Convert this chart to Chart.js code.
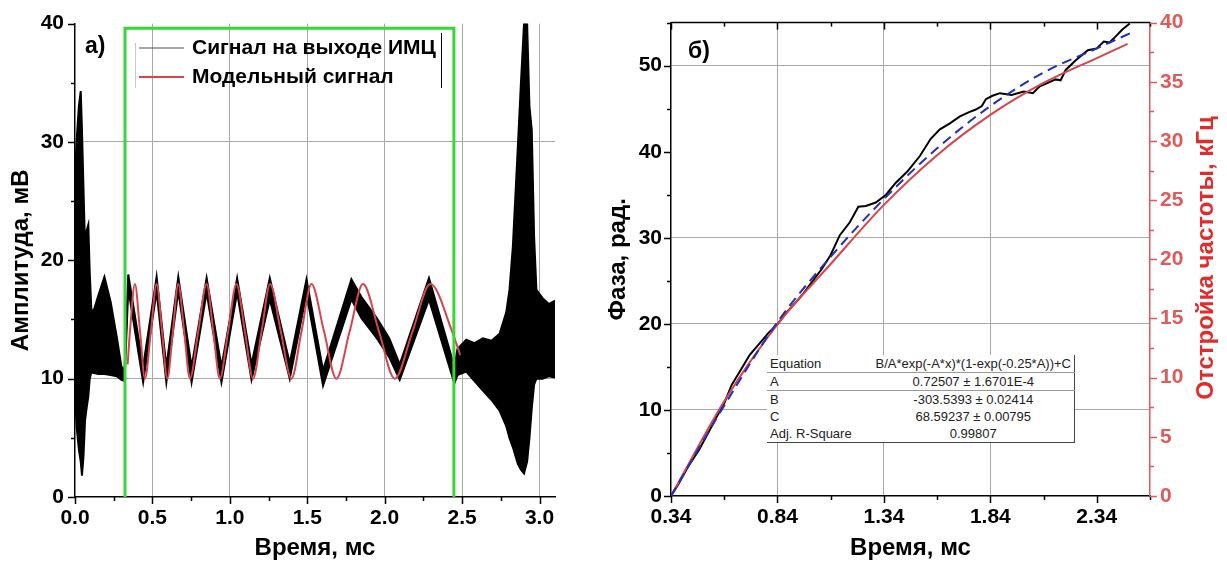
<!DOCTYPE html>
<html>
<head>
<meta charset="utf-8">
<script src="https://cdn.jsdelivr.net/npm/chart.js@4.4.0/dist/chart.umd.min.js"></script>
<style>
  body { margin: 0; background: #fff; width: 1227px; height: 564px; overflow: hidden; position: relative; }
  #wrapA { position: absolute; left: 0; top: 0; width: 600px; height: 564px; }
  #wrapB { position: absolute; left: 600px; top: 0; width: 627px; height: 564px; }
  #fitTable {
    position: absolute; left: 767px; top: 355px; width: 308px;
    border-collapse: collapse; background: #fff;
    font-family: "Liberation Sans", Arial, sans-serif; font-size: 13px; color: #222;
    border-right: 1px solid #444; border-bottom: 1px solid #444;
  }
  #fitTable td { padding: 0 3px; height: 17px; line-height: 17px; white-space: nowrap; }
  #fitTable td:first-child { width: 105px; }
  #fitTable td:last-child { text-align: center; }
  #fitTable tr.sep td { border-bottom: 1px solid #999; }
</style>
</head>
<body>
<div id="wrapA"><canvas id="chartA" width="600" height="564"></canvas></div>
<div id="wrapB"><canvas id="chartB" width="627" height="564"></canvas></div>
<table id="fitTable">
  <tr class="sep"><td>Equation</td><td>B/A*exp(-A*x)*(1-exp(-0.25*A))+C</td></tr>
  <tr class="sep"><td>A</td><td>0.72507 ± 1.6701E-4</td></tr>
  <tr><td>B</td><td>-303.5393 ± 0.02414</td></tr>
  <tr><td>C</td><td>68.59237 ± 0.00795</td></tr>
  <tr><td>Adj. R-Square</td><td>0.99807</td></tr>
</table>
<script>
// ---- panel a) : signal ----
// black signal drawn as a band between upper and lower envelope
const blackT = [0.000, 0.010, 0.025, 0.037, 0.045, 0.055, 0.065, 0.075, 0.086, 0.095, 0.105, 0.115, 0.15, 0.19, 0.23, 0.27, 0.30, 0.32,
  0.344, 0.44, 0.527, 0.59, 0.667, 0.753, 0.85, 0.946, 1.047, 1.14, 1.258, 1.387, 1.495, 1.602, 1.785, 1.85, 1.95, 2.03, 2.097, 2.286, 2.45,
  2.47, 2.527, 2.58, 2.634, 2.69, 2.742, 2.785, 2.806, 2.828, 2.86, 2.88, 2.90, 2.92, 2.935, 2.95, 2.965, 2.98, 3.02, 3.06, 3.10];
const blackHi = [27, 30, 33, 34.3, 31, 26, 21, 22.5, 23, 19, 16, 15.5, 17, 18.6, 16.5, 13.5, 11, 10.8,
  18.8, 11.0, 18.6, 11.0, 18.6, 11.0, 18.5, 11.0, 18.5, 11.2, 18.5, 11.3, 18.4, 10.7, 18.4, 16.9, 15.1, 13.4, 11.2, 18.5, 11.0,
  12.5, 13.3, 13.0, 13.4, 13.2, 13.8, 15.6, 17.5, 21.2, 29.6, 35, 40, 40, 33, 31, 22, 17.5, 16.8, 16.3, 16.6];
const blackLo = [9, 6, 4, 3, 1.8, 3.5, 6.5, 7.5, 8.5, 10, 10.5, 10.5, 10.4, 10.4, 10.3, 10.2, 9.9, 9.8,
  17.6, 9.7, 17.4, 9.7, 17.4, 9.7, 17.3, 9.7, 17.3, 9.9, 16.7, 10.0, 17.2, 9.4, 16.7, 15.1, 13.4, 11.8, 9.9, 16.7, 9.6,
  10.3, 10.6, 9.8, 9.0, 8.2, 7.3, 6.0, 5.0, 4.2, 2.8, 2.3, 2.0, 3.0, 5.0, 7.5, 9.5, 10.0, 10.0, 10.2, 10.1];
// model signal: extrema and crossings
const modelT = [0.34, 0.355, 0.387, 0.42, 0.452, 0.49, 0.527, 0.562, 0.596, 0.632, 0.667, 0.705, 0.742, 0.796, 0.85, 0.893,
  0.935, 0.989, 1.043, 1.097, 1.15, 1.205, 1.26, 1.329, 1.398, 1.463, 1.527, 1.608, 1.688, 1.774, 1.86, 1.963, 2.065, 2.18,
  2.295, 2.435, 2.488];
const modelV = [11.2, 14, 18, 14, 10, 14, 18, 14, 10, 14, 18, 14, 10, 14, 18, 14,
  10, 14, 18, 14, 10, 14, 18, 14, 10, 14, 18, 14, 10, 14, 18, 14, 10, 14,
  18, 14, 12.0];
// green selection frame
const boxT = [0.323, 0.323, 2.447, 2.447];
const boxV = [0, 39.6, 39.6, 0];

const ampXMajor = [0, 0.5, 1, 1.5, 2, 2.5, 3];
const ampXMinor = [0.25, 0.75, 1.25, 1.75, 2.25, 2.75];
const ampYMajor = [0, 10, 20, 30, 40];
const ampYMinor = [5, 15, 25, 35];
const ampGridX = [0.5, 1, 1.5, 2, 2.5, 3];
const ampGridY = [10, 30];

// ---- panel b) : phase ----
const phaseT = [0.34, 0.373, 0.42, 0.47, 0.514, 0.55, 0.589, 0.625, 0.664, 0.71, 0.758, 0.80, 0.838, 0.889, 0.93, 0.964,
  1.0, 1.049, 1.09, 1.133, 1.18, 1.22, 1.255, 1.302, 1.35, 1.396, 1.45, 1.509, 1.56, 1.603, 1.65, 1.697, 1.74, 1.772,
  1.80, 1.819, 1.85, 1.885, 1.94, 1.997, 2.04, 2.072, 2.11, 2.147, 2.17, 2.194, 2.24, 2.298, 2.34, 2.373, 2.40, 2.429, 2.46, 2.495];
const phaseV = [0, 1.3, 3.4, 5.3, 7.3, 9.0, 10.7, 12.9, 14.5, 16.4, 17.8, 19.0, 19.9, 21.5, 22.6, 23.6,
  24.8, 26.4, 28.0, 30.3, 31.8, 33.6, 33.7, 34.1, 35.0, 36.4, 37.7, 39.5, 41.5, 42.6, 43.3, 44.1, 44.6, 44.9,
  45.3, 46.1, 46.5, 46.8, 46.6, 47.0, 46.8, 47.6, 48.0, 48.4, 48.3, 49.5, 50.6, 51.8, 52.0, 52.8, 52.7, 53.4, 54.2, 54.9];
const fitT = [0.34, 0.59, 0.84, 1.09, 1.34, 1.59, 1.84, 2.09, 2.34, 2.50];
const fitV = [0, 10.5, 20.2, 27.8, 34.5, 40.4, 45.3, 49.2, 52.0, 53.8];
const detT = [0.34, 0.59, 0.84, 1.09, 1.34, 1.59, 1.84, 2.09, 2.34, 2.485];
const detV = [0, 8.0, 14.5, 19.6, 24.6, 28.8, 32.2, 34.9, 37.0, 38.2];

const phaseXMajor = [0.34, 0.84, 1.34, 1.84, 2.34];
const phaseXMinor = [0.59, 1.09, 1.59, 2.09, 2.59];
const phaseYMajor = [0, 10, 20, 30, 40, 50];
const phaseYMinor = [5, 15, 25, 35, 45, 55];
const detYMajor = [0, 5, 10, 15, 20, 25, 30, 35, 40];
const detYMinor = [2.5, 7.5, 12.5, 17.5, 22.5, 27.5, 32.5, 37.5];
const phaseGridX = [0.84, 1.34, 1.84];
const phaseGridY = [10, 20, 30, 50];

const pts = (xs, ys) => xs.map((x, i) => ({ x: x, y: ys[i] }));
const byValue = (a, b) => a - b;
const FONT = '"Liberation Sans", Arial, sans-serif';
const tickFont = { family: FONT, size: 21, weight: 'bold' };
const titleFont = { family: FONT, size: 24, weight: 'bold' };
const RED_AXIS = '#e05a5a';

function setTicks(major, minor) {
  const all = major.concat(minor).sort(byValue);
  return function (scale) {
    scale.ticks = all.map(v => ({ value: v }));
  };
}
function gridColor(list, colour) {
  return function (c) {
    return c.tick && list.includes(c.tick.value) ? colour : 'rgba(0,0,0,0)';
  };
}

// tick marks: long for labelled ticks, short for the rest
const tickMarks = {
  id: 'tickMarks',
  afterDraw(chart, args, opts) {
    const ctx = chart.ctx;
    const area = chart.chartArea;
    (opts.axes || []).forEach(a => {
      const s = chart.scales[a.id];
      ctx.save();
      ctx.strokeStyle = a.color;
      ctx.lineWidth = 1.5;
      if (a.line) {
        ctx.beginPath();
        ctx.moveTo(area.left, area.top);
        ctx.lineTo(area.right, area.top);
        ctx.stroke();
      }
      s.ticks.forEach(t => {
        const len = t.label !== '' ? 7 : 4;
        const p = Math.round(s.getPixelForValue(t.value)) + 0.5;
        ctx.beginPath();
        if (a.side === 'bottom') { ctx.moveTo(p, area.bottom); ctx.lineTo(p, area.bottom + len); }
        if (a.side === 'top') { ctx.moveTo(p, area.top); ctx.lineTo(p, area.top + len); }
        if (a.side === 'left') { ctx.moveTo(area.left, p); ctx.lineTo(area.left - len, p); }
        if (a.side === 'right') { ctx.moveTo(area.right, p); ctx.lineTo(area.right + len, p); }
        ctx.stroke();
      });
      ctx.restore();
    });
  }
};

// free text: panel letters and the right axis title
const extraText = {
  id: 'extraText',
  afterDraw(chart, args, opts) {
    const ctx = chart.ctx;
    (opts.items || []).forEach(it => {
      ctx.save();
      ctx.font = it.font;
      ctx.fillStyle = it.color;
      ctx.textAlign = it.align || 'left';
      ctx.textBaseline = 'middle';
      ctx.translate(it.x, it.y);
      if (it.rotate) ctx.rotate(it.rotate);
      ctx.fillText(it.text, 0, 0);
      ctx.restore();
    });
  }
};

// legend of panel a)
const boxLegend = {
  id: 'boxLegend',
  afterDraw(chart, args, opts) {
    if (!opts.entries) return;
    const ctx = chart.ctx;
    ctx.save();
    ctx.strokeStyle = '#000';
    ctx.lineWidth = 1;
    ctx.beginPath(); ctx.moveTo(441.5, 33); ctx.lineTo(441.5, 88); ctx.stroke();
    ctx.strokeStyle = '#c8c8c8';
    ctx.beginPath(); ctx.moveTo(135.5, 43); ctx.lineTo(135.5, 88); ctx.stroke();
    ctx.font = 'bold 21px ' + FONT;
    ctx.textBaseline = 'middle';
    opts.entries.forEach((e, i) => {
      const y = 48 + i * 29;
      ctx.strokeStyle = e.color;
      ctx.lineWidth = e.width;
      ctx.beginPath(); ctx.moveTo(139, y); ctx.lineTo(184, y); ctx.stroke();
      ctx.fillStyle = '#000';
      ctx.fillText(e.text, 192, y);
    });
    ctx.restore();
  }
};

Chart.register(tickMarks, extraText, boxLegend);

new Chart(document.getElementById('chartA'), {
  type: 'line',
  data: {
    datasets: [
      { data: pts(boxT, boxV), borderColor: '#35d835', borderWidth: 3, fill: false },
      { data: pts(modelT, modelV), borderColor: '#d9444a', borderWidth: 2, fill: false, cubicInterpolationMode: 'monotone' },
      { data: pts(blackT, blackHi), borderColor: '#000', borderWidth: 2, backgroundColor: '#000', fill: '+1' },
      { data: pts(blackT, blackLo), borderColor: '#000', borderWidth: 2, fill: false }
    ]
  },
  options: {
    responsive: false,
    animation: false,
    layout: { padding: { top: 19, right: 45, left: 0, bottom: 0 } },
    elements: { point: { radius: 0 }, line: { tension: 0 } },
    plugins: {
      legend: { display: false },
      tooltip: { enabled: false },
      tickMarks: { axes: [{ id: 'x', side: 'bottom', color: '#000' }, { id: 'y', side: 'left', color: '#000' }] },
      extraText: { items: [{ text: 'а)', x: 85, y: 47, font: 'bold 23px ' + FONT, color: '#000' }] },
      boxLegend: {
        entries: [
          { text: 'Сигнал на выходе ИМЦ', color: '#555', width: 1.2 },
          { text: 'Модельный сигнал', color: '#d9444a', width: 2 }
        ]
      }
    },
    scales: {
      x: {
        type: 'linear', min: 0, max: 3.1,
        afterFit(s) { s.height = 67; },
        afterBuildTicks: setTicks(ampXMajor, ampXMinor),
        ticks: { autoSkip: false, maxRotation: 0, padding: 9, color: '#000', font: tickFont,
          callback: v => ampXMajor.includes(v) ? v.toFixed(1) : '' },
        grid: { drawTicks: false, color: gridColor(ampGridX, '#a8a8a8') },
        border: { color: '#000', width: 1.5 },
        title: { display: true, text: 'Время, мс', color: '#000', font: titleFont, padding: { top: 0, bottom: 1 } }
      },
      y: {
        type: 'linear', min: 0, max: 40,
        afterFit(s) { s.width = 75; },
        afterBuildTicks: setTicks(ampYMajor, ampYMinor),
        ticks: { autoSkip: false, padding: 11, color: '#000', font: tickFont,
          callback: v => ampYMajor.includes(v) ? String(v) : '' },
        grid: { drawTicks: false, color: gridColor(ampGridY, '#a8a8a8') },
        border: { color: '#000', width: 1.5 },
        title: { display: true, text: 'Амплитуда, мВ', color: '#000', font: titleFont, padding: { top: 7, bottom: 0 } }
      }
    }
  }
});

new Chart(document.getElementById('chartB'), {
  type: 'line',
  data: {
    datasets: [
      { data: pts(fitT, fitV), borderColor: '#1f2fc0', borderWidth: 2, borderDash: [10, 6], fill: false, cubicInterpolationMode: 'monotone' },
      { data: pts(detT, detV), yAxisID: 'y2', borderColor: '#d9444a', borderWidth: 2, fill: false, cubicInterpolationMode: 'monotone' },
      { data: pts(phaseT, phaseV), borderColor: '#000', borderWidth: 2, fill: false }
    ]
  },
  options: {
    responsive: false,
    animation: false,
    layout: { padding: { top: 19, right: 0, left: 0, bottom: 0 } },
    elements: { point: { radius: 0 }, line: { tension: 0 } },
    plugins: {
      legend: { display: false },
      tooltip: { enabled: false },
      tickMarks: { axes: [
        { id: 'x', side: 'bottom', color: '#000' },
        { id: 'x', side: 'top', color: '#000', line: true },
        { id: 'y', side: 'left', color: '#000' },
        { id: 'y2', side: 'right', color: RED_AXIS }
      ] },
      extraText: { items: [
        { text: 'б)', x: 88, y: 52, font: 'bold 23px ' + FONT, color: '#000' },
        { text: 'Отстройка частоты, кГц', x: 606, y: 258, rotate: -Math.PI / 2, align: 'center', font: 'bold 24px ' + FONT, color: '#e52a2a' }
      ] }
    },
    scales: {
      x: {
        type: 'linear', min: 0.34, max: 2.59,
        afterFit(s) { s.height = 68; },
        afterBuildTicks: setTicks(phaseXMajor, phaseXMinor),
        ticks: { autoSkip: false, maxRotation: 0, padding: 9, color: '#000', font: tickFont,
          callback: v => phaseXMajor.includes(v) ? v.toFixed(2) : '' },
        grid: { drawTicks: false, color: gridColor(phaseGridX, '#a8a8a8') },
        border: { color: '#000', width: 1.5 },
        title: { display: true, text: 'Время, мс', color: '#000', font: titleFont, padding: { top: 0, bottom: 1 } }
      },
      y: {
        type: 'linear', position: 'left', min: 0, max: 55,
        afterFit(s) { s.width = 71; },
        afterBuildTicks: setTicks(phaseYMajor, phaseYMinor),
        ticks: { autoSkip: false, padding: 9, color: '#000', font: tickFont,
          callback: v => phaseYMajor.includes(v) ? String(v) : '' },
        grid: { drawTicks: false, color: gridColor(phaseGridY, '#a8a8a8') },
        border: { color: '#000', width: 1.5 },
        title: { display: true, text: 'Фаза, рад.', color: '#000', font: titleFont, padding: { top: 4, bottom: 0 } }
      },
      y2: {
        type: 'linear', position: 'right', min: 0, max: 40,
        afterFit(s) { s.width = 77; },
        afterBuildTicks: setTicks(detYMajor, detYMinor),
        ticks: { autoSkip: false, padding: 10, color: RED_AXIS, font: tickFont,
          callback: v => detYMajor.includes(v) ? String(v) : '' },
        grid: { drawOnChartArea: false, drawTicks: false },
        border: { color: RED_AXIS, width: 1.5 }
      }
    }
  }
});
</script>
</body>
</html>
